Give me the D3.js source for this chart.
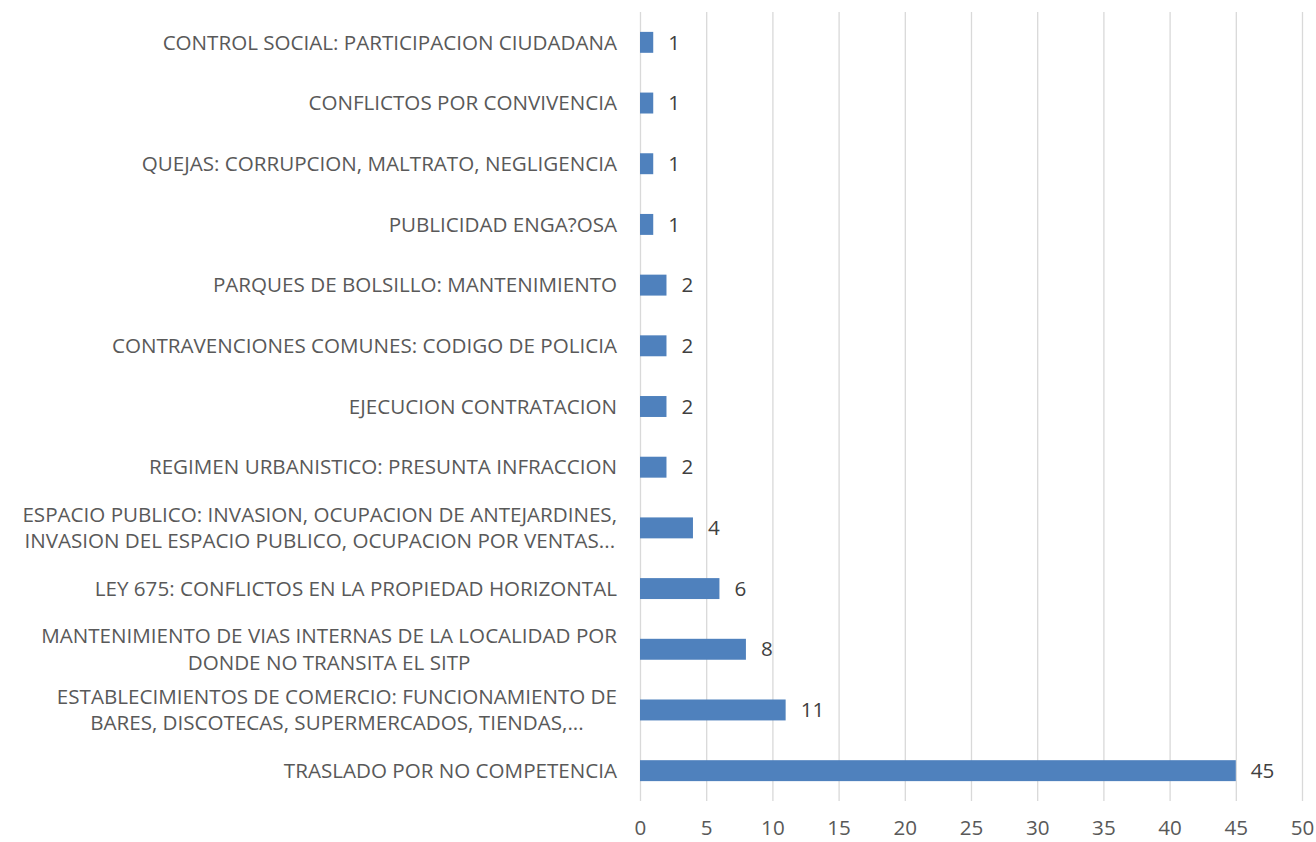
<!DOCTYPE html>
<html>
<head>
<meta charset="utf-8">
<script src="https://cdn.jsdelivr.net/npm/d3@7"></script>
<style>
  html, body { margin: 0; padding: 0; background: #fff; }
  svg { display: block; font-family: "Open Sans", sans-serif; }
</style>
</head>
<body>
<svg id="chart"></svg>
<script>
// categories top to bottom, each label split into its display lines
const categories = [
  ["CONTROL SOCIAL: PARTICIPACION CIUDADANA"],
  ["CONFLICTOS POR CONVIVENCIA"],
  ["QUEJAS: CORRUPCION, MALTRATO, NEGLIGENCIA"],
  ["PUBLICIDAD ENGA?OSA"],
  ["PARQUES DE BOLSILLO: MANTENIMIENTO"],
  ["CONTRAVENCIONES COMUNES: CODIGO DE POLICIA"],
  ["EJECUCION CONTRATACION"],
  ["REGIMEN URBANISTICO: PRESUNTA INFRACCION"],
  ["ESPACIO PUBLICO: INVASION, OCUPACION DE ANTEJARDINES,", "INVASION DEL ESPACIO PUBLICO, OCUPACION POR VENTAS..."],
  ["LEY 675: CONFLICTOS EN LA PROPIEDAD HORIZONTAL"],
  ["MANTENIMIENTO DE VIAS INTERNAS DE LA LOCALIDAD POR", "DONDE NO TRANSITA EL SITP"],
  ["ESTABLECIMIENTOS DE COMERCIO: FUNCIONAMIENTO DE", "BARES, DISCOTECAS, SUPERMERCADOS, TIENDAS,..."],
  ["TRASLADO POR NO COMPETENCIA"]
];
const values = [1, 1, 1, 1, 2, 2, 2, 2, 4, 6, 8, 11, 45];
const xTicks = [0, 5, 10, 15, 20, 25, 30, 35, 40, 45, 50];

const width = 1316;
const height = 842;
const margin = { top: 12, right: 14, bottom: 41, left: 640 };
const innerWidth = width - margin.left - margin.right;
const innerHeight = height - margin.top - margin.bottom;

const FONT_SIZE = 20.6;
const TEXT_COLOR = "#595959";

const svg = d3.select("#chart").attr("width", width).attr("height", height);
const g = svg.append("g").attr("transform", `translate(${margin.left},${margin.top})`);

const x = d3.scaleLinear().domain([0, 50]).range([0, innerWidth]);
const y = d3.scaleBand()
  .domain(d3.range(categories.length))
  .range([0, innerHeight])
  .paddingInner(0.655)
  .paddingOuter(0.3275);

// vertical gridlines
g.append("g")
  .call(d3.axisBottom(x).tickValues(xTicks).tickSize(innerHeight).tickFormat(""))
  .call(s => s.select(".domain").remove())
  .call(s => s.selectAll("line").attr("stroke", "#d9d9d9").attr("stroke-width", 1.3));

// x tick labels
const xAxisG = g.append("g")
  .attr("transform", `translate(0,${innerHeight})`)
  .call(d3.axisBottom(x).tickValues(xTicks).tickSize(0).tickPadding(19));
xAxisG.select(".domain").remove();
xAxisG.selectAll("text")
  .attr("fill", TEXT_COLOR)
  .style("font-family", "'Open Sans', sans-serif")
  .style("font-size", FONT_SIZE + "px");

// bars
g.selectAll("rect.bar")
  .data(values)
  .join("rect")
  .attr("class", "bar")
  .attr("x", x(0))
  .attr("y", (d, i) => y(i))
  .attr("width", d => x(d) - x(0))
  .attr("height", y.bandwidth())
  .attr("fill", "#4f81bd");

// value labels
g.selectAll("text.val")
  .data(values)
  .join("text")
  .attr("class", "val")
  .attr("x", d => x(d) + 15)
  .attr("y", (d, i) => y(i) + y.bandwidth() / 2)
  .attr("dy", "0.35em")
  .attr("fill", "#404040")
  .style("font-size", FONT_SIZE + "px")
  .text(d => d);

// category labels: block right-aligned, lines centred within block
const labelRight = -23;
const lineH = 26.5;
categories.forEach((lines, i) => {
  const cy = y(i) + y.bandwidth() / 2;
  const lg = g.append("g");
  const texts = lg.selectAll("text")
    .data(lines)
    .join("text")
    .attr("y", (d, j) => cy + (j - (lines.length - 1) / 2) * lineH)
    .attr("dy", "0.35em")
    .attr("fill", TEXT_COLOR)
    .style("font-size", FONT_SIZE + "px")
    .text(d => d);
  const widths = texts.nodes().map(n => n.getComputedTextLength());
  const maxW = d3.max(widths);
  texts.attr("x", labelRight - maxW / 2).attr("text-anchor", "middle");
});
</script>
</body>
</html>
